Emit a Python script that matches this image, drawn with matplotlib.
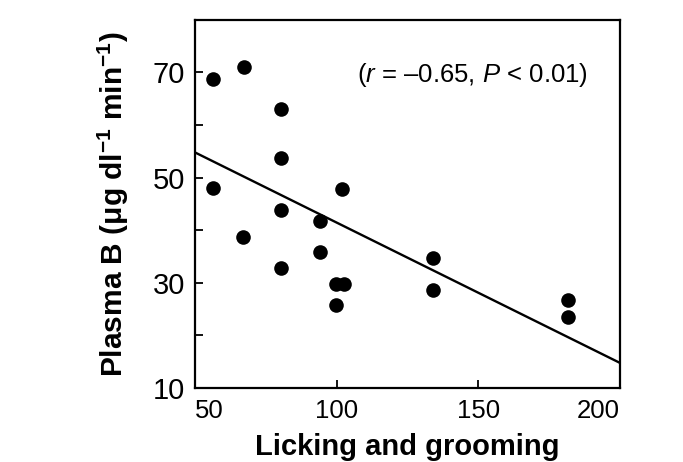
import matplotlib.pyplot as plt

plt.rcParams["font.family"] = ["Liberation Sans", "DejaVu Sans"]
plt.rcParams["mathtext.fontset"] = "custom"
plt.rcParams["mathtext.rm"] = "Liberation Sans"
plt.rcParams["mathtext.it"] = "Liberation Sans:italic"
plt.rcParams["mathtext.bf"] = "Liberation Sans:bold"

# licking/grooming score vs plasma B
licking = [56.5, 67.3, 80.2, 80.2, 56.2, 80.2, 67.1, 80.2, 102.0,
           94.1, 94.1, 99.8, 102.6, 99.8, 134.1, 134.1, 181.8, 181.8]
plasma_b = [68.8, 71.1, 63.1, 53.8, 48.0, 43.8, 38.7, 32.9, 47.9,
            41.8, 35.9, 29.8, 29.8, 25.8, 34.7, 28.6, 26.7, 23.5]

# regression line end points
fit_x = [50, 200]
fit_y = [54.8, 14.8]

xticks = [50, 100, 150, 200]
yticks = [10, 20, 30, 40, 50, 60, 70, 80]
ylabels = ["10", "", "30", "", "50", "", "70", ""]

fig = plt.figure(figsize=(6.83, 4.62), dpi=100)
ax = fig.add_axes([0.2855, 0.160, 0.622, 0.797])

ax.plot(fit_x, fit_y, color="black", lw=1.7)
ax.plot(licking, plasma_b, "o", color="black", ms=10.5, mew=0)

ax.set_xlim(50, 200)
ax.set_ylim(10, 80)
ax.set_xticks(xticks)
ax.set_yticks(yticks)
ax.set_yticklabels(ylabels)
ax.tick_params(axis="both", direction="in", length=6, width=1.3, colors="black")
ax.tick_params(axis="y", labelsize=21, pad=7)
ax.tick_params(axis="x", labelsize=18.5, pad=8)
labels = ax.get_xticklabels()
labels[0].set_ha("left")
labels[-1].set_ha("right")
for s in ax.spines.values():
    s.set_linewidth(1.6)

ax.set_ylabel(r"Plasma B (μg dl$^{\mathbf{-1}}$ min$^{\mathbf{-1}}$)", fontsize=21.5,
              fontweight="bold", labelpad=16)
ax.set_xlabel("Licking and grooming", fontsize=21, fontweight="bold",
              labelpad=7)

ax.text(0.925, 0.851, "($r$ = –0.65, $P$ < 0.01)", transform=ax.transAxes,
        ha="right", va="center", fontsize=18.5)

fig.savefig("out.png", dpi=100)
